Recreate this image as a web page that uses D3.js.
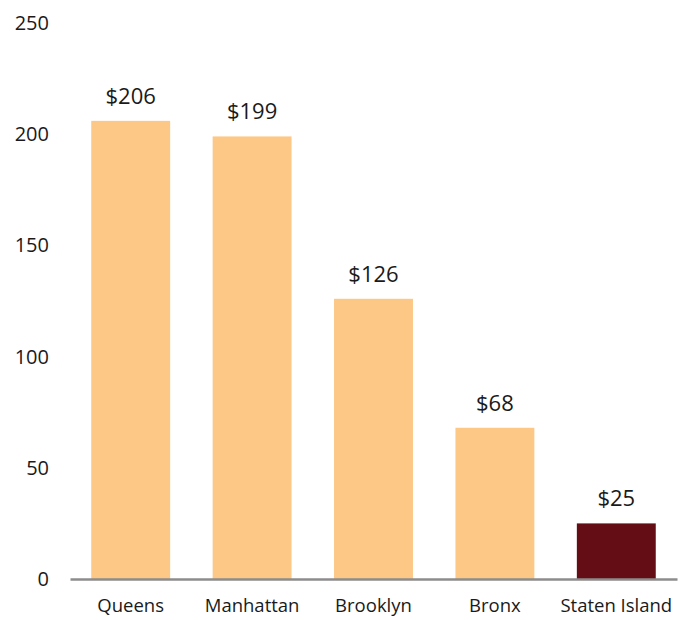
<!DOCTYPE html>
<html><head><meta charset="utf-8">
<script src="https://cdn.jsdelivr.net/npm/d3@7"></script>
<style>body{margin:0;background:#fff}text{font-family:Futura,"Century Gothic","Open Sans",sans-serif;fill:#1a1a1a}</style>
</head><body><svg id="c" width="691" height="620"></svg>
<script>
const categories = ["Queens","Manhattan","Brooklyn","Bronx","Staten Island"];
const values = [206,199,126,68,25];
const valueLabels = ["$206","$199","$126","$68","$25"];
const yTicks = [0,50,100,150,200,250];
const barColors = ["#FDC785","#FDC785","#FDC785","#FDC785","#650D15"];

const svg = d3.select("#c");
const x = d3.scaleBand().domain(categories).range([70,677]).paddingInner(0.35).paddingOuter(0.175);
const y = d3.scaleLinear().domain([0,250]).range([579,23]);

svg.selectAll("rect.bar").data(values).join("rect").attr("class","bar")
  .attr("x",(d,i)=>x(categories[i])).attr("width",x.bandwidth())
  .attr("y",d=>y(d)).attr("height",d=>y(0)-y(d))
  .attr("fill",(d,i)=>barColors[i]);

svg.selectAll("text.val").data(values).join("text").attr("class","val")
  .attr("x",(d,i)=>x(categories[i])+x.bandwidth()/2).attr("y",d=>y(d)-17)
  .attr("text-anchor","middle").attr("font-size",22).text((d,i)=>valueLabels[i]);

const yAxis = svg.append("g").attr("transform","translate(49,0)")
  .call(d3.axisLeft(y).tickValues(yTicks).tickSize(0).tickPadding(0));
yAxis.select(".domain").remove();
yAxis.selectAll("text").attr("font-size",20).attr("fill","#1a1a1a").style("font-family",'Futura,"Century Gothic","Open Sans",sans-serif');

const xAxis = svg.append("g").attr("transform","translate(0,579)")
  .call(d3.axisBottom(x).tickSize(0).tickPadding(20));
xAxis.select(".domain").attr("stroke","#8c8c8c").attr("stroke-width",2.5);
xAxis.selectAll("text").attr("font-size",18.5).attr("fill","#1a1a1a").style("font-family",'Futura,"Century Gothic","Open Sans",sans-serif');
</script></body></html>
